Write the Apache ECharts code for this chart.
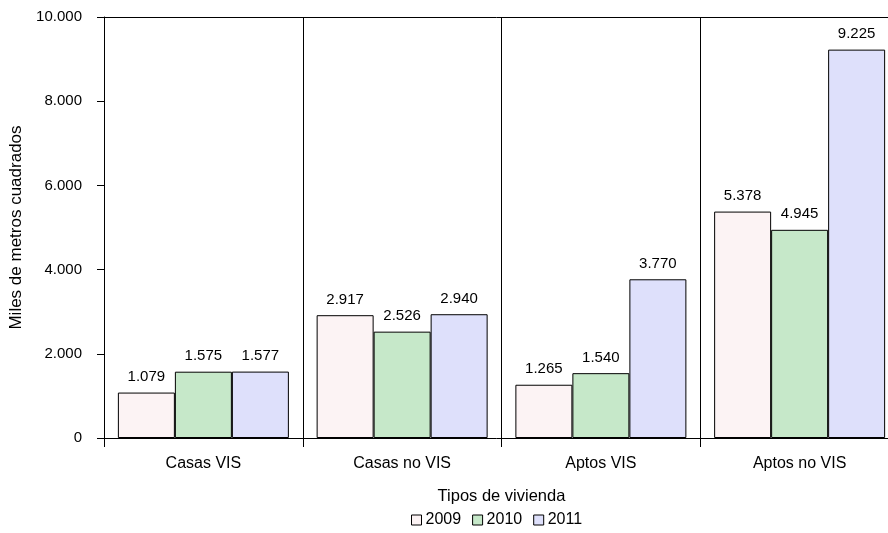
<!DOCTYPE html>
<html>
<head>
<meta charset="utf-8">
<script src="https://cdn.jsdelivr.net/npm/echarts@6/dist/echarts.min.js"></script>
<style>
  html, body { margin: 0; padding: 0; background: #fff; }
  #chart { width: 888px; height: 533px; }
</style>
</head>
<body>
<div id="chart"></div>
<script>
// datos
var categorias = ['Casas VIS', 'Casas no VIS', 'Aptos VIS', 'Aptos no VIS'];
var anios = ['2009', '2010', '2011'];
var datos2009 = [1079, 2917, 1265, 5378];
var datos2010 = [1575, 2526, 1540, 4945];
var datos2011 = [1577, 2940, 3770, 9225];
var colores = ['#fcf3f4', '#c6e8c9', '#dee0fb'];

// 1234 -> "1.234"
function miles(v) {
    return String(v).replace(/\B(?=(\d{3})+(?!\d))/g, '.');
}

function serie(nombre, data, color) {
    return {
        name: nombre,
        type: 'bar',
        barWidth: 57,
        barGap: 0,
        itemStyle: { color: color, borderColor: '#000', borderWidth: 1 },
        label: {
            show: true, position: 'top', distance: 8,
            fontSize: 15, color: '#000',
            formatter: function (p) { return miles(p.value); }
        },
        data: data
    };
}

var chart = echarts.init(document.getElementById('chart'));
var option = {
    animation: false,
    textStyle: { fontFamily: 'Liberation Sans, Arial', color: '#000' },
    // el area de trazado sigue un poco mas alla del borde derecho
    grid: { left: 104, top: 17, bottom: 95, width: 795, outerBoundsMode: 'none', containLabel: false },
    legend: {
        data: anios,
        bottom: 0,
        left: 406,
        itemWidth: 10, itemHeight: 10, itemGap: 11,
        icon: 'rect',
        itemStyle: { borderColor: '#000', borderWidth: 1 },
        textStyle: { fontSize: 16, color: '#000', padding: [0, 0, 0, -1] }
    },
    xAxis: [
        {
            type: 'category',
            data: categorias,
            name: 'Tipos de vivienda',
            nameLocation: 'middle',
            nameGap: 50,
            nameTextStyle: { fontSize: 16.5, color: '#000' },
            axisLine: { lineStyle: { color: '#000', width: 1 } },
            axisTick: { show: true, length: 9, lineStyle: { color: '#000' } },
            axisLabel: { fontSize: 16, color: '#000', margin: 18 },
            splitLine: { show: true, lineStyle: { color: '#000', width: 1 } }
        },
        {
            type: 'category',
            position: 'top',
            data: categorias,
            axisLine: { lineStyle: { color: '#000', width: 1 } },
            axisTick: { show: false },
            axisLabel: { show: false },
            splitLine: { show: false }
        }
    ],
    yAxis: {
        type: 'value',
        min: 0, max: 10000, interval: 2000,
        name: 'Miles de metros cuadrados',
        nameLocation: 'middle',
        nameGap: 79,
        nameTextStyle: { fontSize: 17, color: '#000' },
        axisLine: { show: true, lineStyle: { color: '#000', width: 1 } },
        axisTick: { show: true, length: 7, lineStyle: { color: '#000' } },
        axisLabel: { fontSize: 15, color: '#000', margin: 22, formatter: miles },
        splitLine: { show: false }
    },
    series: [
        serie(anios[0], datos2009, colores[0]),
        serie(anios[1], datos2010, colores[1]),
        serie(anios[2], datos2011, colores[2])
    ]
};
chart.setOption(option);
</script>
</body>
</html>
